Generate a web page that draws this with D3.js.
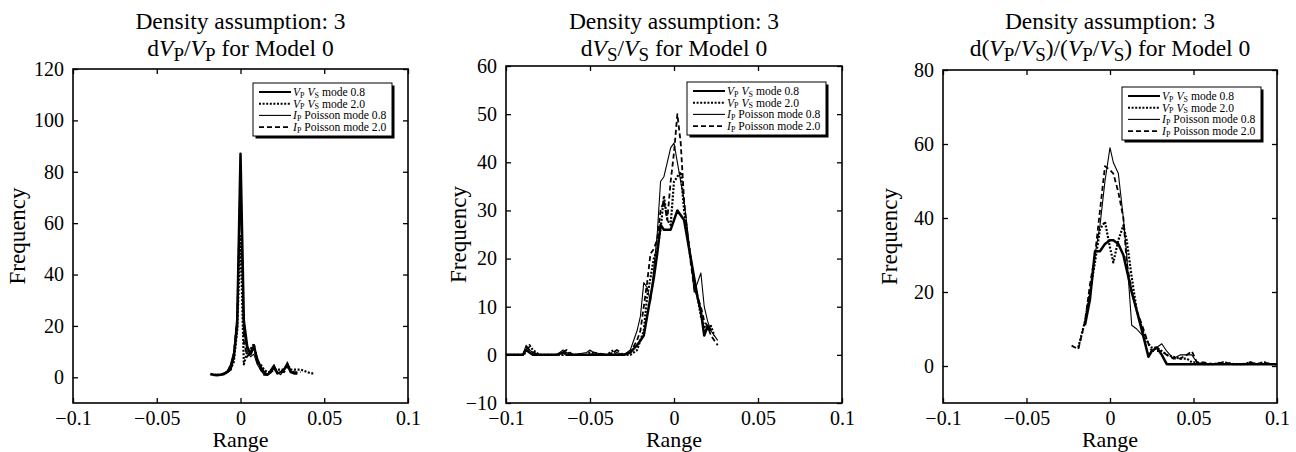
<!DOCTYPE html>
<html>
<head>
<meta charset="utf-8">
<script src="https://cdn.jsdelivr.net/npm/d3@7"></script>
<style>
  body { margin: 0; background: #fff; }
  svg text { fill: #000; }
</style>
</head>
<body>
<svg id="chart" width="1296" height="452"></svg>
<script>
var SERIF = "'Liberation Serif', 'Times New Roman', Times, 'DejaVu Serif', serif";

// shared axis stuff
var xTicks = [-0.1, -0.05, 0, 0.05, 0.1];
var xTickLabels = ["\u22120.1", "\u22120.05", "0", "0.05", "0.1"];
var legendNames = [
  [["V", "i"], ["P", "s"], [" "], ["V", "i"], ["S", "s"], [" mode 0.8"]],
  [["V", "i"], ["P", "s"], [" "], ["V", "i"], ["S", "s"], [" mode 2.0"]],
  [["I", "i"], ["P", "s"], [" Poisson mode 0.8"]],
  [["I", "i"], ["P", "s"], [" Poisson mode 2.0"]]
];

// panel 1: dVp/Vp
var x1 = [-0.018, -0.016, -0.014, -0.012, -0.010, -0.008, -0.006, -0.004, -0.002, 0.000,
  0.002, 0.004, 0.006, 0.008, 0.010, 0.012, 0.014, 0.016, 0.018, 0.020,
  0.022, 0.024, 0.026, 0.028, 0.030, 0.032, 0.034, 0.036, 0.038, 0.040, 0.042, 0.044];
var p1s1 = [1.3, 1, 0.8, 1, 1.2, 2, 3, 8, 20, 87, 22, 12, 9, 12, 7, 4, 2, 1, 2, 4,
  1.5, 2, 3, 5, 2, 1.5, 1.5, null, null, null, null, null];
var p1s2 = [null, 0.8, 1, 1, 1.5, 2, 3, 6, 18, 55, 5, 10, 11, 13, 6, 5, 3, 2, 2, 3,
  3, 3, 3, 5, 3, 3, 3, 3, 2.5, 2, 1.5, 1.5];
var p1s3 = [1, 1, 1, 1, 1.5, 2.5, 5, 10, 25, 70, 18, 10, 8, 9, 5, 3, 1, 1, 3, 5,
  2, 1, 3, 6, 2, 2, null, null, null, null, null, null];
var p1s4 = [null, 1, 1, 1, 1.5, 2, 4, 9, 22, 80, 14, 8, 10, 13, 6, 3, 1, 1, 2, 4,
  2, 2, 2, 4, 3, 2, 2, 2, null, null, null, null];

// panel 2: dVs/Vs
var x2 = [-0.100, -0.090, -0.088, -0.086, -0.084, -0.080, -0.070, -0.066, -0.064, -0.060,
  -0.052, -0.050, -0.048, -0.040, -0.036, -0.034, -0.030, -0.026, -0.022, -0.020,
  -0.018, -0.016, -0.014, -0.012, -0.010, -0.008, -0.006, -0.004, -0.002, 0.000,
  0.002, 0.004, 0.006, 0.008, 0.010, 0.012, 0.014, 0.016, 0.018, 0.020,
  0.022, 0.024, 0.026, 0.028];
var p2s1 = [0, 0, 1, 0.5, 0, 0, 0, 0.5, 0, 0, 0, 0, 0, 0, 0, 0, 0, 0.5, 2, 3,
  4, 8, 12, 16, 21, 27, 26, 26, 26, 28, 30, 29, 28, 24, 20, 16, 12, 9, 4, 6,
  5, null, null, null];
var p2s2 = [0, 0, 0.5, 2, 1, 0, 0, 0, 0.5, 0, 0, 0.5, 0, 0, 1, 0, 0, 0, 1, 3,
  5, 12, 16, 20, 22, 26, 33, 28, 27, 36, 37, 38, 30, 25, 20, 15, 12, 8, 6, 5,
  6, 4, null, null];
var p2s3 = [0, 0, 2, 1, 0.5, 0, 0, 1, 0.5, 0, 0.5, 1, 0.5, 0, 0, 0.5, 0, 1, 5, 8,
  15, 14, 11, 18, 25, 36, 37, 40, 43, 44, 40, 36, 32, 26, 20, 13, 15, 17, 10, 7,
  5, 4, 3, null];
var p2s4 = [0, 0, 1.5, 1, 0.5, 0, 0, 0.5, 1, 0, 0, 0, 0.5, 0, 0.5, 1, 0, 0.5, 3, 5,
  10, 15, 21, 22, 24, 30, 32, 28, 36, 42, 50, 44, 32, 25, 19, 14, 12, 10, 7, 6,
  4, 3, 2, null];

// panel 3: d(Vp/Vs)/(Vp/Vs)
var x3 = [-0.023, -0.019, -0.015, -0.012, -0.009, -0.006, -0.003, 0.000, 0.002, 0.005,
  0.008, 0.010, 0.013, 0.016, 0.020, 0.023, 0.025, 0.028, 0.031, 0.034,
  0.038, 0.042, 0.046, 0.049, 0.052, 0.056, 0.062, 0.068, 0.074, 0.080,
  0.084, 0.088, 0.092, 0.096, 0.100];
var p3s1 = [null, null, 11, 18, 31, 31, 33, 34, 34, 33, 30, 26, 20, 15, 8, 2.5, 4, 5, 3, 0.5,
  0.5, 0.5, 0.5, 0.5, 0.5, 0.5, 0.5, 0.5, 0.5, 0.5, 0.5, 0.5, 0.5, 0.5, 0.5];
var p3s2 = [null, 5, 12, 20, 28, 37, 39, 32, 28, 34, 38, 34, 24, 15, 9, 6, 5, 5, 4, 3,
  2.5, 2, 2, 1, 1, 0.5, 0.5, 1, 0.5, 0.5, 1, 0.5, 1, 0.5, 0.5];
var p3s3 = [null, null, 12, 20, 30, 38, 50, 59, 55, 52, 40, 30, 11, 10, 8, 3, 4, 5, 6, 4,
  2, 3, 3, 3, 1, 0.5, 0.5, 0.5, 0.5, 0.5, 0.5, 0.5, 0.5, 0.5, 0.5];
var p3s4 = [5.5, 4.5, 12, 22, 30, 42, 54, 53, 52, 47, 40, 28, 20, 15, 10, 6, 4, 4, 4, 3,
  2, 2, 3, 4, 1, 1, 0.5, 1, 0.5, 0.5, 1, 0.5, 1, 0.5, 0.5];

var y1Ticks = [0, 20, 40, 60, 80, 100, 120];
var y2Ticks = [-10, 0, 10, 20, 30, 40, 50, 60];
var y3Ticks = [0, 20, 40, 60, 80];

var title1 = [["d"], ["V", "i"], ["P", "s"], ["/"], ["V", "i"], ["P", "s"], [" for Model 0"]];
var title2 = [["d"], ["V", "i"], ["S", "s"], ["/"], ["V", "i"], ["S", "s"], [" for Model 0"]];
var title3 = [["d("], ["V", "i"], ["P", "s"], ["/"], ["V", "i"], ["S", "s"], [")/("], ["V", "i"], ["P", "s"], ["/"], ["V", "i"], ["S", "s"], [") for Model 0"]];

// line looks, same order as legend
var styles = [
  { w: 2.5, dash: null },
  { w: 2.2, dash: "2,1.6" },
  { w: 1.1, dash: null },
  { w: 1.8, dash: "5,3" }
];

var panels = [
  { box: [73, 408, 69, 403], yDom: [-10, 120], yTicks: y1Ticks, xs: x1, series: [p1s1, p1s2, p1s3, p1s4], title: title1, leg: [253, 83], yl: 48 },
  { box: [506, 842, 66, 403], yDom: [-10, 60], yTicks: y2Ticks, xs: x2, series: [p2s1, p2s2, p2s3, p2s4], title: title2, leg: [687, 82], yl: 40 },
  { box: [943, 1277, 70, 403], yDom: [-10, 80], yTicks: y3Ticks, xs: x3, series: [p3s1, p3s2, p3s3, p3s4], title: title3, leg: [1122, 87], yl: 46 }
];

var svg = d3.select("#chart");

// writes a list of [text, kind] bits into a text node, kind i = italic, s = subscript
function richText(sel, parts, subSize, subDy) {
  var down = false;
  parts.forEach(function(p) {
    var ts = sel.append("tspan").text(p[0]);
    if (p[1] == "i") ts.style("font-style", "italic");
    if (p[1] == "s") {
      ts.style("font-size", subSize + "px").attr("dy", subDy);
      down = true;
    } else if (down) {
      ts.attr("dy", -subDy);
      down = false;
    }
  });
}

panels.forEach(function(p) {
  var left = p.box[0], right = p.box[1], top = p.box[2], bottom = p.box[3];
  var cx = (left + right) / 2;

  var x = d3.scaleLinear().domain([-0.1, 0.1]).range([left, right]);
  var y = d3.scaleLinear().domain(p.yDom).range([bottom, top]);

  var g = svg.append("g").attr("font-family", SERIF).style("font-family", SERIF);

  // titles
  g.append("text").attr("x", cx).attr("y", 29).attr("text-anchor", "middle")
    .style("font-size", "23.5px").text("Density assumption: 3");
  var t2 = g.append("text").attr("x", cx).attr("y", 56).attr("text-anchor", "middle")
    .style("font-size", "23.5px");
  richText(t2, p.title, 19, 5);

  // axes, ticks pointing in like matlab
  var bottomAx = d3.axisBottom(x).tickValues(xTicks).tickSizeInner(-5).tickSizeOuter(0).tickPadding(8)
    .tickFormat(function(d, i) { return xTickLabels[i]; });
  var topAx = d3.axisTop(x).tickValues(xTicks).tickSizeInner(-5).tickSizeOuter(0).tickFormat("");
  var leftAx = d3.axisLeft(y).tickValues(p.yTicks).tickSizeInner(-5).tickSizeOuter(0).tickPadding(9);
  var rightAx = d3.axisRight(y).tickValues(p.yTicks).tickSizeInner(-5).tickSizeOuter(0).tickFormat("");

  var axes = [
    g.append("g").attr("transform", "translate(0," + bottom + ")").call(bottomAx),
    g.append("g").attr("transform", "translate(0," + top + ")").call(topAx),
    g.append("g").attr("transform", "translate(" + left + ",0)").call(leftAx),
    g.append("g").attr("transform", "translate(" + right + ",0)").call(rightAx)
  ];
  axes.forEach(function(a) {
    a.attr("font-family", SERIF);
    a.select(".domain").remove();
    a.selectAll("line").attr("stroke", "#000").attr("stroke-width", 1.3);
    a.selectAll("text").style("font-size", "20px").style("font-family", SERIF);
  });
  axes[0].selectAll("text").attr("dy", "0.7em");

  // data lines
  var lines = g.append("g");
  p.series.forEach(function(s, k) {
    var pts = p.xs.map(function(xv, i) { return [xv, s[i]]; });
    var line = d3.line()
      .defined(function(d) { return d[1] != null; })
      .x(function(d) { return x(d[0]); })
      .y(function(d) { return y(d[1]); });
    lines.append("path")
      .attr("d", line(pts))
      .attr("fill", "none")
      .attr("stroke", "#000")
      .attr("stroke-width", styles[k].w)
      .attr("stroke-dasharray", styles[k].dash)
      .attr("stroke-linejoin", "round");
  });

  // frame
  g.append("rect").attr("x", left).attr("y", top)
    .attr("width", right - left).attr("height", bottom - top)
    .attr("fill", "none").attr("stroke", "#000").attr("stroke-width", 1.6);

  // axis titles
  g.append("text").attr("x", cx).attr("y", 447).attr("text-anchor", "middle")
    .style("font-size", "22px").text("Range");
  g.append("text")
    .attr("transform", "translate(" + (left - p.yl) + "," + ((top + bottom) / 2) + ") rotate(-90)")
    .attr("text-anchor", "middle").style("font-size", "23px").text("Frequency");

  // legend
  var lx = p.leg[0], ly = p.leg[1], lw = 139, lh = 53;
  var lg = g.append("g");
  lg.append("rect").attr("x", lx + 2.5).attr("y", ly + 2.5).attr("width", lw).attr("height", lh).attr("fill", "#000");
  lg.append("rect").attr("x", lx).attr("y", ly).attr("width", lw).attr("height", lh)
    .attr("fill", "#fff").attr("stroke", "#000").attr("stroke-width", 1);
  legendNames.forEach(function(name, k) {
    var ry = ly + 9 + k * 11.7;
    lg.append("line").attr("x1", lx + 6).attr("x2", lx + 38).attr("y1", ry).attr("y2", ry)
      .attr("stroke", "#000").attr("stroke-width", Math.min(styles[k].w, 2))
      .attr("stroke-dasharray", styles[k].dash);
    var t = lg.append("text").attr("x", lx + 40).attr("y", ry + 4).style("font-size", "11.6px");
    richText(t, name, 8, 1.5);
  });
});
</script>
</body>
</html>
